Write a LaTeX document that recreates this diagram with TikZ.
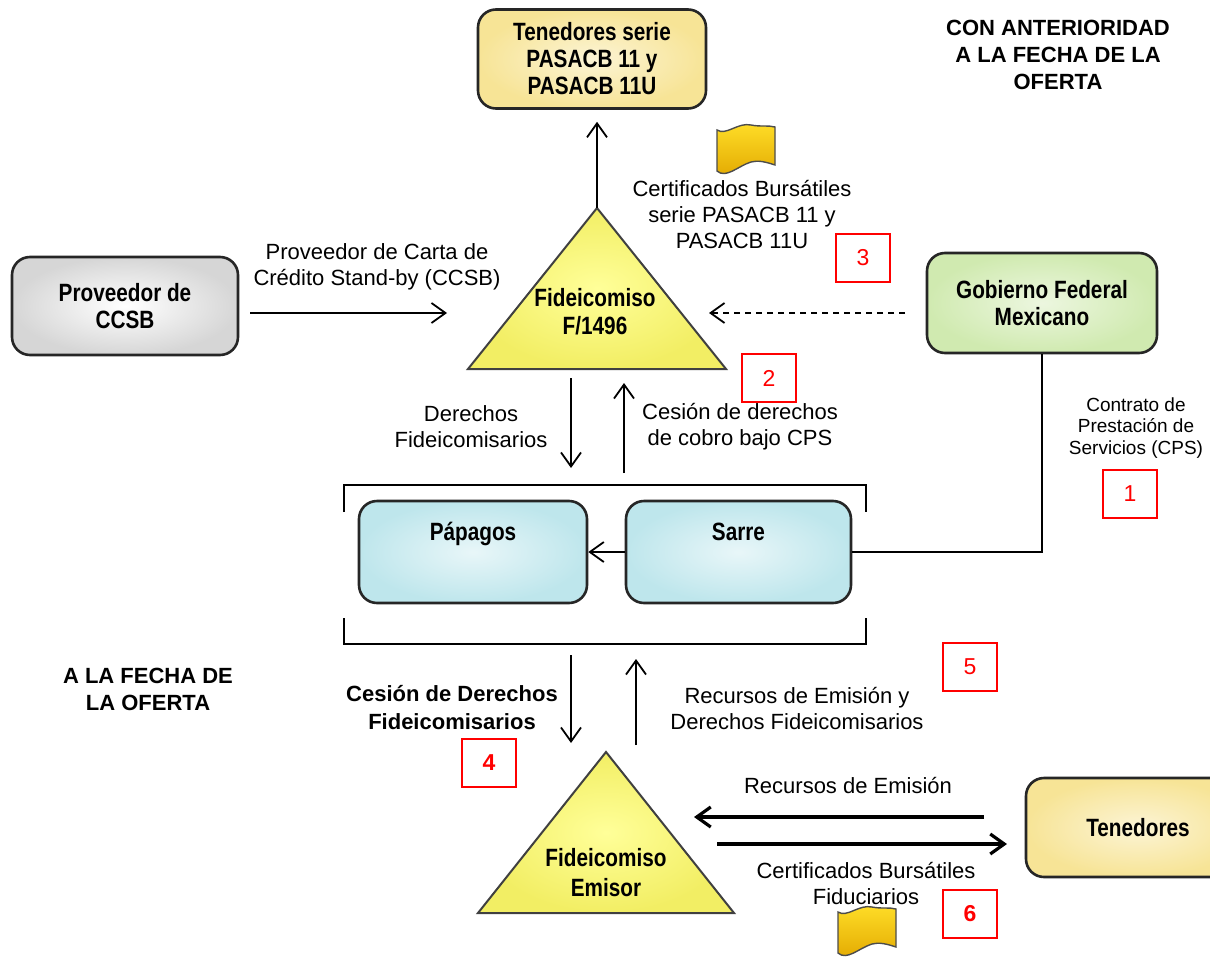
\documentclass[tikz,border=0pt]{standalone}
\usepackage{fontspec}
\setmainfont{Liberation Sans}
\newfontfamily\boxfont[FakeStretch=0.83]{Liberation Sans}
\usetikzlibrary{arrows.meta}

\definecolor{boxyel}{RGB}{247,228,150}
\definecolor{boxgray}{RGB}{214,214,214}
\definecolor{boxgreen}{RGB}{208,234,176}
\definecolor{boxblue}{RGB}{190,230,236}
\definecolor{triyel}{RGB}{242,238,100}
\definecolor{flagtop}{RGB}{255,222,40}
\definecolor{flagbot}{RGB}{226,168,0}
\definecolor{numred}{RGB}{255,0,0}

\tikzset{
  box/.style={rounded corners=9pt, draw=black!85, line width=1.3pt, inner sep=0pt, align=center,
    font=\fontsize{12.5}{13.5}\selectfont\boxfont\bfseries},
  lbl/.style={align=center, inner sep=0pt, font=\fontsize{11}{13}\selectfont},
  head/.style={align=center, inner sep=0pt, font=\fontsize{11}{13.5}\selectfont\bfseries},
  num/.style={draw=numred, line width=1pt, text=numred, minimum width=27pt, minimum height=24pt,
    inner sep=0pt, font=\fontsize{11.5}{13}\selectfont},
  arr/.style={-{Straight Barb[length=7pt,width=10pt]}, line width=0.9pt},
  tri/.style={draw=black!75, line width=1pt, inner color=yellow!40, outer color=triyel},
  flag/.style={draw=black!70, line width=0.7pt, top color=flagtop, bottom color=flagbot}
}

\begin{document}
\begin{tikzpicture}[x=0.5pt, y=-0.5pt]
  \useasboundingbox (0,0) rectangle (1210,958);
  \clip (0,0) rectangle (1210,958);

  % Fideicomiso F/1496 y Fideicomiso Emisor
  \shadedraw[tri] (597,208) -- (726,369) -- (468,369) -- cycle;
  \shadedraw[tri] (606,752) -- (734,913) -- (478,913) -- cycle;
  \coordinate (fidAtop) at (597,208);
  \node[lbl, font=\fontsize{12.5}{14}\selectfont\boxfont\bfseries] (fidA) at (595,312) {Fideicomiso\\F/1496};
  \node[lbl, font=\fontsize{12.5}{15}\selectfont\boxfont\bfseries] (fidB) at (606,873) {Fideicomiso\\Emisor};

  % cajas
  \node[box, inner color=boxyel!40, outer color=boxyel, minimum width=114pt, minimum height=49.5pt] (tene) at (592,59) {Tenedores serie\\PASACB 11 y\\PASACB 11U};
  \node[box, inner color=white, outer color=boxgray, minimum width=113pt, minimum height=49pt] (ccsb) at (125,306) {Proveedor de\\CCSB};
  \node[box, inner color=boxgreen!40, outer color=boxgreen, minimum width=115pt, minimum height=50pt] (gob) at (1042,303) {Gobierno Federal\\Mexicano};
  \node[box, inner color=boxblue!35, outer color=boxblue, minimum width=114pt, text height=19.5pt, text depth=31.5pt] (pap) at (473,552) {Pápagos};
  \node[box, inner color=boxblue!35, outer color=boxblue, minimum width=112.5pt, text height=19.5pt, text depth=31.5pt] (sarre) at (738.5,552) {Sarre};
  \node[box, inner color=boxyel!40, outer color=boxyel, minimum width=112pt, minimum height=49.5pt] (tene2) at (1138,827.5) {Tenedores};

  % corchetes
  \draw[line width=1pt] (344,512) -- (344,485) -- (866,485) -- (866,512);
  \draw[line width=1pt] (344,618) -- (344,644) -- (866,644) -- (866,618);

  % banderas
  \begin{scope}[shift={(716,124)}]
    \shadedraw[flag] (1,6) .. controls (10,12) and (22,-2) .. (35,1) .. controls (45,3) and (52,1) .. (59,3) -- (59,41)
      .. controls (50,38) and (42,36) .. (35,38) .. controls (22,42) and (10,55) .. (1,47) -- cycle;
  \end{scope}
  \begin{scope}[shift={(837,906)}]
    \shadedraw[flag] (1,6) .. controls (10,12) and (22,-2) .. (35,1) .. controls (45,3) and (52,1) .. (59,3) -- (59,41)
      .. controls (50,38) and (42,36) .. (35,38) .. controls (22,42) and (10,55) .. (1,47) -- cycle;
  \end{scope}

  % textos
  \node[head] (antes) at (1058,55) {CON ANTERIORIDAD\\A LA FECHA DE LA\\OFERTA};
  \node[head] (fecha) at (148,689) {A LA FECHA DE\\LA OFERTA};
  \node[lbl] (certA) at (742,215) {Certificados Bursátiles\\serie PASACB 11 y\\PASACB 11U};
  \node[lbl] (carta) at (377,267) {Proveedor de Carta de\\Crédito Stand-by (CCSB)};
  \node[lbl, font=\fontsize{9.5}{10.8}\selectfont] (cps) at (1136,428) {Contrato de\\Prestación de\\Servicios (CPS)};
  \node[lbl] (derA) at (471,427) {Derechos\\Fideicomisarios};
  \node[lbl] (cesA) at (740,427) {Cesión de derechos\\de cobro bajo CPS};
  \node[lbl, font=\fontsize{11}{14}\selectfont\bfseries] (cesB) at (452,708) {Cesión de Derechos\\Fideicomisarios};
  \node[lbl] (recB) at (797,708) {Recursos de Emisión y\\Derechos Fideicomisarios};
  \node[lbl] (recC) at (848,785) {Recursos de Emisión};
  \node[lbl] (certC) at (866,883) {Certificados Bursátiles\\Fiduciarios};

  % numeros
  \node[num] (n1) at (1130,494) {1};
  \node[num] (n2) at (769,378) {2};
  \node[num] (n3) at (863,258) {3};
  \node[num, font=\fontsize{11.5}{13}\selectfont\bfseries] (n4) at (489,763) {4};
  \node[num] (n5) at (970,667) {5};
  \node[num, font=\fontsize{11.5}{13}\selectfont\bfseries] (n6) at (970,914) {6};

  % extremos de flechas
  \coordinate (ccsbR) at (250,313);
  \coordinate (fidAL) at (447,313);
  \coordinate (gobL) at (905,313);
  \coordinate (fidAR) at (709,313);
  \coordinate (dA1) at (571,378); \coordinate (dA2) at (571,468);
  \coordinate (uA1) at (624,473); \coordinate (uA2) at (624,383);
  \coordinate (dB1) at (571,655); \coordinate (dB2) at (571,743);
  \coordinate (uB1) at (636,745); \coordinate (uB2) at (636,659);
  \coordinate (recR) at (984,817); \coordinate (recL) at (694,817);
  \coordinate (certL) at (717,844); \coordinate (certR) at (1007,844);

  % flechas
  \draw[arr] (fidAtop) -- ([yshift=-6pt]fidAtop |- tene.south);
  \draw[arr] (ccsbR) -- (fidAL);
  \draw[arr, dashed, dash pattern=on 3pt off 2.5pt] (gobL) -- (fidAR);
  \draw[arr] (dA1) -- (dA2);
  \draw[arr] (uA1) -- (uA2);
  \draw[arr] (sarre.west) -- (pap.east);
  \draw[line width=1.2pt] (gob.south) |- (sarre.east);
  \draw[arr] (dB1) -- (dB2);
  \draw[arr] (uB1) -- (uB2);
  \draw[arr, line width=1.6pt] (recR) -- (recL);
  \draw[arr, line width=1.6pt] (certL) -- (certR);
\end{tikzpicture}
\end{document}
